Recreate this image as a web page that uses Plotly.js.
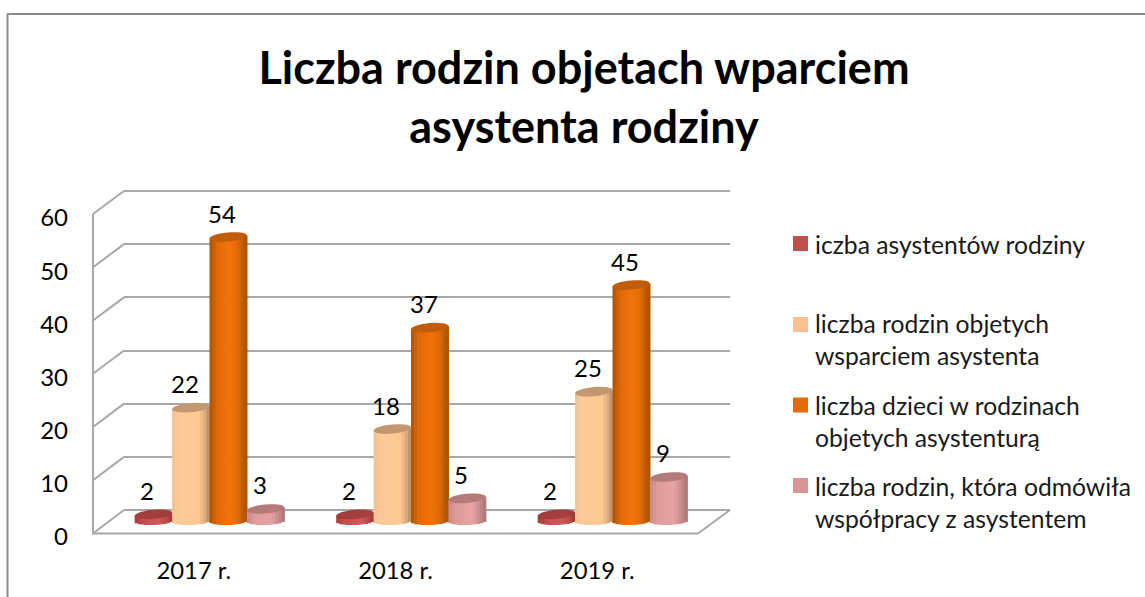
<!DOCTYPE html>
<html><head><meta charset="utf-8">
<script src="https://cdn.plot.ly/plotly-3.0.1.min.js"></script>
<style>html,body{margin:0;padding:0;background:#fff;overflow:hidden}#c{width:1145px;height:597px}</style>
</head><body><div id="c"></div>
<script>
const categories = ["2017 r.", "2018 r.", "2019 r."];
const seriesNames = ["iczba asystentów rodziny", "liczba rodzin objetych<br>wsparciem asystenta", "liczba dzieci w rodzinach<br>objetych asystenturą", "liczba rodzin, która odmówiła<br>współpracy z asystentem"];
const familyAssistants = [2, 2, 2];
const familiesSupported = [22, 18, 25];
const childrenInFamilies = [54, 37, 45];
const familiesRefused = [3, 5, 9];
const allSeries = [familyAssistants, familiesSupported, childrenInFamilies, familiesRefused];
const chartTitle = "Liczba rodzin objetach wparciem<br>asystenta rodziny";
const swatchColors = ["#c0504d", "#fac090", "#e36c09", "#d99694"];
const topColors = ["#a23f3d", "#c3976f", "#c25c08", "#b57b7b"];
const shading = [
  [[0,"#a33a38"],[0.2,"#c24a48"],[0.6,"#d2595a"],[0.85,"#bb4a48"],[1,"#973a38"]],
  [[0,"#eec092"],[0.15,"#fcc997"],[0.7,"#ffc994"],[0.88,"#dcab7c"],[1,"#b08a65"]],
  [[0,"#a85203"],[0.2,"#e06808"],[0.5,"#f2730c"],[0.75,"#e36a08"],[0.9,"#b85a06"],[1,"#a85203"]],
  [[0,"#c58a8a"],[0.2,"#e09a9a"],[0.65,"#e7a3a3"],[0.88,"#c08585"],[1,"#a77575"]]
];

const W = 1145, H = 597;
const px = v => v / W, py = v => 1 - v / H;
const hex = s => [1,3,5].map(i => parseInt(s.substr(i,2),16));
function ramp(stops, t){
  for(let i=1;i<stops.length;i++){
    if(t<=stops[i][0]){
      const a=stops[i-1],b=stops[i],f=(t-a[0])/(b[0]-a[0]),ca=hex(a[1]),cb=hex(b[1]);
      return "rgb("+ca.map((c,j)=>Math.round(c+(cb[j]-c)*f)).join(",")+")";
    }
  }
  return stops[stops.length-1][1];
}

// pixel frame of the front plane and of the bars' own scale
const frontL=93, frontR=698, frontT=214, frontB=533.5;
const backL=124, backR=730, backT=191, backB=510;
const labelT=218, labelB=537;
const pxPerCat=201.5, firstCentre=209.5, pxPerUnit=5.333, barBase=525, barPx=37.4;
const catU = pxPerCat, barW = barPx/catU, unit = 1/pxPerUnit;
const bottomRy = 4*unit, topRy = 4.6*unit, topTilt = 1.6*unit, strips = 12;
const backUnit = (backB-backT)/60;

const positions = categories.map((_,i)=>i);
const traces = [{x:[0],y:[10],xaxis:"x",yaxis:"y",mode:"markers",marker:{opacity:0},showlegend:false,hoverinfo:"skip",type:"scatter"},
                {x:[0],y:[0],xaxis:"x2",yaxis:"y2",mode:"markers",marker:{opacity:0},showlegend:false,hoverinfo:"skip",type:"scatter"}];
const shapes = [];
const annotations = [];

allSeries.forEach((vals,k)=>{
  const left = (k-2)*barW;
  for(let s=0;s<strips;s++){
    const t=(s+0.5)/strips, u=2*t-1;
    const lift = bottomRy*(1-Math.sqrt(1-u*u)) + topTilt*0.4*u;
    traces.push({type:"bar",x:positions,y:vals.map(v=>v+topTilt*u-lift),base:vals.map(()=>lift),
      offset:left+s*barW/strips,width:barW/strips+0.6/catU,
      marker:{color:ramp(shading[k],t),line:{width:0}},
      xaxis:"x3",yaxis:"y3",showlegend:false,hoverinfo:"skip"});
  }
  vals.forEach((v,i)=>{
    const cx=i+left+barW/2;
    let d="";
    for(let a=0;a<36;a++){
      const th=a/36*2*Math.PI;
      d+=(a?"L":"M")+(cx+barW/2*Math.cos(th))+","+(v+topRy*Math.sin(th)+topTilt*Math.cos(th))+" ";
    }
    shapes.push({type:"path",layer:"above",xref:"x3",yref:"y3",path:d+"Z",fillcolor:topColors[k],line:{width:0}});
    annotations.push({xref:"x3",yref:"y3",x:cx,y:v,xshift:-6,yshift:24,showarrow:false,
      text:String(v),font:{family:"Lato",size:24,color:"#000"},xanchor:"center",yanchor:"middle"});
  });
});

const grey="#a8a8a8";
function line(x0,y0,x1,y1,color,width){
  shapes.push({type:"line",layer:"below",xref:"paper",yref:"paper",x0:px(x0),y0:py(y0),x1:px(x1),y1:py(y1),line:{color:color||grey,width:width||2}});
}
// outer frame
line(7.5,597,7.5,14,"#8c8c8c",2); line(7,14,W,14,"#8c8c8c",2);
// front axis lines and depth edges
line(frontL,frontT,frontL,frontB+1); line(frontL-1,frontB,frontR,frontB);
for(let k=0;k<=6;k++){
  const f=k/6;
  line(frontL,frontB+(frontT-frontB)*f,backL,backB+(backT-backB)*f);
}
line(frontR,frontB,backR,backB);

const legendRows=[243.5,324.5,405,485.5], legendText=[245,340,421,502];
seriesNames.forEach((n,k)=>{
  shapes.push({type:"rect",layer:"above",xref:"paper",yref:"paper",x0:px(793),x1:px(808),y0:py(legendRows[k]+7.5),y1:py(legendRows[k]-7.5),fillcolor:swatchColors[k],line:{width:0}});
  annotations.push({xref:"paper",yref:"paper",x:px(813),y:py(legendText[k]),xanchor:"left",yanchor:"middle",align:"left",showarrow:false,
    text:n,font:{family:"Lato",size:24.7,color:"#1a1a1a"}});
});

const hidden={visible:false,fixedrange:true};
const layout={
  width:W,height:H,margin:{l:0,r:0,t:0,b:0,autoexpand:false},
  paper_bgcolor:"#fff",plot_bgcolor:"rgba(0,0,0,0)",showlegend:false,barmode:"overlay",
  title:{text:chartTitle,x:584/W,xanchor:"center",y:1-84/H,yanchor:"middle",yref:"container",
    font:{family:"Lato",size:45,color:"#000",weight:700}},
  xaxis:{domain:[px(backL),px(backR)],range:[0,1],showgrid:false,showline:false,zeroline:false,showticklabels:false,ticks:"",anchor:"y"},
  yaxis:{domain:[py(backB+backUnit),py(backT-backUnit)],range:[-1,61],tick0:0,dtick:10,showgrid:true,gridcolor:grey,gridwidth:2,zeroline:false,showline:false,showticklabels:false,ticks:"",anchor:"x"},
  xaxis2:{domain:[px(frontL),px(frontR)],range:[-0.5,2.5],tickvals:positions,ticktext:categories,showgrid:false,zeroline:false,
    showline:false,ticks:"",ticklabelstandoff:17,tickfont:{family:"Lato",size:23.8,color:"#000"},anchor:"y2"},
  yaxis2:{domain:[py(labelB),py(labelT)],range:[0,60],tick0:0,dtick:10,showgrid:false,zeroline:false,
    showline:false,ticks:"",ticklabelstandoff:24,tickfont:{family:"Lato",size:24,color:"#000"},anchor:"x2"},
  xaxis3:Object.assign({domain:[px(frontL),px(frontR)],range:[(frontL-firstCentre)/catU,(frontR-firstCentre)/catU],anchor:"y3"},hidden),
  yaxis3:Object.assign({domain:[py(frontB),py(frontT)],range:[(barBase-frontB)/pxPerUnit,(barBase-frontT)/pxPerUnit],anchor:"x3"},hidden),
  shapes:shapes,annotations:annotations
};
Plotly.newPlot("c",traces,layout,{displayModeBar:false,staticPlot:true});
</script></body></html>
